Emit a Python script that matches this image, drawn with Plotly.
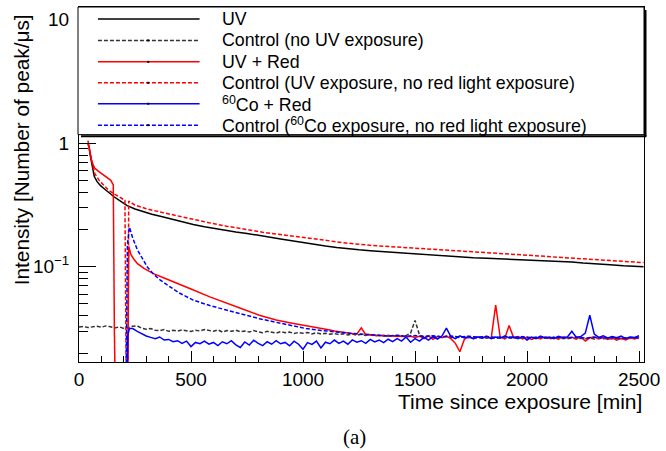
import plotly.graph_objects as go

# ---------------- data ----------------
# UV (black solid)
t_uv = [40, 45, 50, 55, 60, 68, 80, 95, 111, 130, 155, 180, 215, 250, 288, 325, 363, 400, 450,
        510, 560, 610, 658, 700, 750, 805, 850, 900, 950, 1013, 1050, 1100, 1150, 1204, 1250,
        1300, 1350, 1425, 1480, 1540, 1600, 1646, 1700, 1760, 1820, 1867, 1920, 1980, 2040,
        2089, 2150, 2200, 2250, 2310, 2370, 2430, 2480, 2520]
v_uv = [1.0, 0.93, 0.80, 0.70, 0.62, 0.54, 0.49, 0.455, 0.43, 0.40, 0.37, 0.345, 0.312, 0.293,
        0.278, 0.266, 0.256, 0.246, 0.233, 0.220, 0.211, 0.203, 0.197, 0.191, 0.186, 0.180,
        0.174, 0.168, 0.162, 0.155, 0.151, 0.147, 0.143, 0.139, 0.137, 0.135, 0.133, 0.130,
        0.128, 0.125, 0.123, 0.121, 0.120, 0.118, 0.117, 0.116, 0.115, 0.114, 0.113, 0.112,
        0.110, 0.109, 0.107, 0.106, 0.104, 0.102, 0.101, 0.100]

# Control (no UV exposure) (black dashed), sampled every 20 min from t = 0
t0_ctrl = 0
v_ctrl = [0.0325, 0.0328, 0.0322, 0.0326, 0.0330, 0.0324, 0.0332, 0.0327, 0.0320, 0.0326,
          0.0316, 0.0322, 0.0330, 0.0332, 0.0318, 0.0312, 0.0316, 0.0306, 0.0304, 0.0310,
          0.0300, 0.0306, 0.0302, 0.0308, 0.0303, 0.0299, 0.0306, 0.0302, 0.0310, 0.0304,
          0.0300, 0.0308, 0.0296, 0.0304, 0.0300, 0.0306, 0.0298, 0.0302, 0.0296, 0.0304,
          0.0298, 0.0292, 0.0300, 0.0296, 0.0290, 0.0298, 0.0292, 0.0296, 0.0288, 0.0294,
          0.0289, 0.0294, 0.0286, 0.0292, 0.0285, 0.0290, 0.0284, 0.0288, 0.0282, 0.0287,
          0.0280, 0.0285, 0.0279, 0.0284, 0.0278, 0.0282, 0.0276, 0.0280, 0.0275, 0.0279,
          0.0274, 0.0278, 0.0273, 0.0277, 0.0290, 0.0368, 0.0280, 0.0272, 0.0276, 0.0270,
          0.0274, 0.0269, 0.0273, 0.0268, 0.0272, 0.0267, 0.0271, 0.0266, 0.0270, 0.0265,
          0.0269, 0.0264, 0.0268, 0.0263, 0.0267, 0.0262, 0.0266, 0.0263, 0.0267, 0.0262,
          0.0266, 0.0261, 0.0265, 0.0262, 0.0266, 0.0261, 0.0265, 0.0260, 0.0264, 0.0261,
          0.0265, 0.0260, 0.0264, 0.0261, 0.0265, 0.0260, 0.0264, 0.0261, 0.0265, 0.0260,
          0.0264, 0.0261, 0.0265, 0.0262, 0.0266, 0.0263]

# UV + Red (red solid): early part, red-light gap (off scale), recovery
t_uvred_a = [40, 45, 50, 55, 62, 70, 83, 100, 111, 125, 142, 153, 158, 170, 214, 222, 232, 245,
             261, 290, 332, 380, 437, 500, 584, 660, 730, 805, 880, 940, 1000]
v_uvred_a = [1.05, 0.92, 0.82, 0.74, 0.67, 0.63, 0.60, 0.57, 0.547, 0.52, 0.50, 0.46, 0.03, 0.001,
             0.001, 0.146, 0.125, 0.115, 0.106, 0.097, 0.088, 0.081, 0.074, 0.066, 0.057, 0.051,
             0.0455, 0.0405, 0.037, 0.0352, 0.0338]
# UV + Red tail, every 20 min from t = 1020
t0_uvred_b = 1020
v_uvred_b = [0.0332, 0.0328, 0.0322, 0.0318, 0.0312, 0.0308, 0.0302, 0.0298, 0.0294, 0.0290,
             0.0286, 0.0284, 0.0320, 0.0282, 0.0280, 0.0278, 0.0276, 0.0279, 0.0274, 0.0276,
             0.0272, 0.0275, 0.0270, 0.0274, 0.0268, 0.0274, 0.0262, 0.0276, 0.0258, 0.0272,
             0.0266, 0.0275, 0.0262, 0.0240, 0.0205, 0.0258, 0.0272, 0.0262, 0.0270, 0.0266,
             0.0272, 0.0264, 0.0490, 0.0270, 0.0262, 0.0335, 0.0266, 0.0272, 0.0262, 0.0270,
             0.0258, 0.0268, 0.0262, 0.0270, 0.0264, 0.0268, 0.0262, 0.0270, 0.0266, 0.0268,
             0.0262, 0.0270, 0.0250, 0.0266, 0.0270, 0.0262, 0.0268, 0.0258, 0.0266, 0.0254,
             0.0264, 0.0256, 0.0266, 0.0260, 0.0268]

# Control (UV exposure, no red light exposure) (red dashed)
t_ctrl_uv = [40, 50, 60, 70, 90, 111, 130, 155, 180, 205, 215, 218, 222, 250, 300, 363, 420, 500,
             580, 658, 740, 820, 900, 1013, 1100, 1200, 1300, 1400, 1500, 1600, 1700, 1800,
             1900, 2000, 2100, 2200, 2300, 2400, 2520]
v_ctrl_uv = [1.0, 0.83, 0.66, 0.57, 0.50, 0.46, 0.42, 0.39, 0.365, 0.345, 0.001, 0.001, 0.34,
             0.315, 0.295, 0.277, 0.262, 0.243, 0.227, 0.213, 0.200, 0.190, 0.182, 0.171, 0.163,
             0.155, 0.149, 0.145, 0.142, 0.138, 0.134, 0.131, 0.128, 0.124, 0.121, 0.118, 0.115,
             0.112, 0.108]

# 60Co + Red (blue solid): rise, then every 20 min from t = 240
t_co_a = [205, 218, 225]
v_co_a = [0.001, 0.028, 0.0316]
t0_co_b = 240
v_co_b = [0.0316, 0.0300, 0.0285, 0.0275, 0.0268, 0.0262, 0.0270, 0.0255, 0.0258, 0.0247,
          0.0252, 0.0240, 0.0250, 0.0226, 0.0244, 0.0238, 0.0250, 0.0236, 0.0244, 0.0230,
          0.0247, 0.0238, 0.0252, 0.0233, 0.0222, 0.0246, 0.0232, 0.0254, 0.0240, 0.0230,
          0.0247, 0.0236, 0.0252, 0.0238, 0.0244, 0.0229, 0.0250, 0.0236, 0.0215, 0.0243,
          0.0235, 0.0250, 0.0220, 0.0245, 0.0238, 0.0255, 0.0240, 0.0250, 0.0236, 0.0256,
          0.0245, 0.0252, 0.0240, 0.0258, 0.0246, 0.0255, 0.0243, 0.0259, 0.0248, 0.0262,
          0.0250, 0.0270, 0.0245, 0.0262, 0.0250, 0.0268, 0.0255, 0.0272, 0.0260, 0.0275,
          0.0318, 0.0272, 0.0262, 0.0276, 0.0265, 0.0272, 0.0262, 0.0270, 0.0264, 0.0274,
          0.0262, 0.0270, 0.0264, 0.0275, 0.0266, 0.0270, 0.0262, 0.0272, 0.0255, 0.0270,
          0.0262, 0.0275, 0.0265, 0.0270, 0.0262, 0.0274, 0.0266, 0.0270, 0.0300, 0.0268,
          0.0272, 0.0290, 0.0405, 0.0285, 0.0268, 0.0276, 0.0265, 0.0272, 0.0266, 0.0275,
          0.0262, 0.0270, 0.0268, 0.0276]

# Control (60Co exposure, no red light exposure) (blue dashed)
t_ctrl_co_a = [205, 216, 225, 240, 260, 280, 304, 330, 363, 400, 450, 510, 584, 658, 730, 805,
               880, 950, 1013, 1080, 1150, 1220, 1300]
v_ctrl_co_a = [0.001, 0.15, 0.209, 0.17, 0.138, 0.118, 0.100, 0.088, 0.078, 0.070, 0.061,
               0.0537, 0.0485, 0.0446, 0.041, 0.038, 0.0355, 0.0335, 0.0316, 0.0305, 0.0296,
               0.0288, 0.0282]
t0_ctrl_co_b = 1340
v_ctrl_co_b = [0.0278, 0.0275, 0.0279, 0.0274, 0.0277, 0.0272, 0.0276, 0.0271, 0.0275, 0.0270,
               0.0274, 0.0269, 0.0273, 0.0268, 0.0272, 0.0268, 0.0271, 0.0267, 0.0271, 0.0266,
               0.0270, 0.0266, 0.0270, 0.0265, 0.0269, 0.0265, 0.0268, 0.0264, 0.0268, 0.0265]

legend_labels = ["UV", "Control (no UV exposure)", "UV + Red",
                 "Control (UV exposure, no red light exposure)", "<sup>60</sup>Co + Red",
                 "Control (<sup>60</sup>Co exposure, no red light exposure)"]

y_tickvals = [0.1, 1, 10]
y_ticktext = ["10<sup>\u22121</sup>", "1", "10"]
x_tickvals = [0, 500, 1000, 1500, 2000, 2500]

# ---------------- assembly ----------------
def grid(t0, vals, step=20):
    return [t0 + step * i for i in range(len(vals))]

t_ctrl = grid(t0_ctrl, v_ctrl)
t_uvred = t_uvred_a + grid(t0_uvred_b, v_uvred_b)
v_uvred = v_uvred_a + v_uvred_b
t_co = t_co_a + grid(t0_co_b, v_co_b)
v_co = v_co_a + v_co_b
t_ctrl_co = t_ctrl_co_a + grid(t0_ctrl_co_b, v_ctrl_co_b, 40)
v_ctrl_co = v_ctrl_co_a + v_ctrl_co_b

RED, BLUE, BLACK, GREY = "#ff0000", "#0000ff", "#000000", "#333333"
DASH = "4px,2px"
LW = 1.5

styles = [
    (t_uv, v_uv, BLACK, "solid"),
    (t_ctrl, v_ctrl, GREY, DASH),
    (t_uvred, v_uvred, RED, "solid"),
    (t_ctrl_uv, v_ctrl_uv, RED, DASH),
    (t_co, v_co, BLUE, "solid"),
    (t_ctrl_co, v_ctrl_co, BLUE, DASH),
]

fig = go.Figure()
for (tx, vy, col, dash), name in zip(styles, legend_labels):
    fig.add_trace(go.Scatter(x=tx, y=vy, mode="lines", name=name, hoverinfo="skip",
                             line=dict(color=col, width=LW, dash=dash), showlegend=False))

W, H = 666, 451
PL, PR, PT, PB = 79, 646, 6, 362  # plot area in pixels


def px(x):
    return (x - PL) / (PR - PL)


def py(y):
    return (PB - y) / (PB - PT)


minor_y = [m * d for d in (0.01, 0.1, 1) for m in range(2, 10)]

fig.update_layout(
    width=W, height=H, autosize=False,
    margin=dict(l=PL, r=W - PR, t=PT, b=H - PB, pad=0),
    paper_bgcolor="white", plot_bgcolor="white",
    font=dict(family="Liberation Sans, Arial, sans-serif", size=19, color="black"),
    xaxis=dict(range=[0, 2522], showgrid=False, zeroline=False, showline=True, mirror=True,
               linecolor="black", linewidth=1, ticks="inside", ticklen=11, tickwidth=1,
               tickcolor="black", tickvals=x_tickvals, ticklabelstandoff=0,
               minor=dict(ticks="inside", ticklen=6, tickwidth=1, tickcolor="black", dtick=100,
                          showgrid=False)),
    yaxis=dict(type="log", range=[-1.771, 1.102], showgrid=False, zeroline=False, showline=True,
               mirror=True, linecolor="black", linewidth=1, ticks="inside", ticklen=17,
               tickwidth=1, tickcolor="black", tickvals=y_tickvals, ticktext=y_ticktext,
               ticklabelstandoff=5,
               minor=dict(ticks="inside", ticklen=9, tickwidth=1, tickcolor="black",
                          tickvals=minor_y, showgrid=False)),
)

shapes = []
ann = []
# legend box (drawn over the top of the frame), with ROOT-like shadow
LX0, LX1, LY0, LY1 = 78, 646, 6, 134
shapes.append(dict(type="rect", xref="paper", yref="paper", x0=px(LX0), x1=px(LX1),
                   y0=py(LY1), y1=py(LY0), fillcolor="white",
                   line=dict(color="black", width=1), layer="above"))
shapes.append(dict(type="line", xref="paper", yref="paper", x0=px(LX1 + 1.5), x1=px(LX1 + 1.5),
                   y0=py(LY1 + 1.5), y1=py(LY0 + 3), line=dict(color="black", width=2),
                   layer="above"))
shapes.append(dict(type="line", xref="paper", yref="paper", x0=px(LX0 + 3), x1=px(LX1 + 2.5),
                   y0=py(LY1 + 1.5), y1=py(LY1 + 1.5), line=dict(color="black", width=2),
                   layer="above"))
row_y = [18, 39.5, 61, 82, 103, 124.5]
for i, ((tx, vy, col, dash), name) in enumerate(zip(styles, legend_labels)):
    yy = py(row_y[i])
    shapes.append(dict(type="line", xref="paper", yref="paper", x0=px(98), x1=px(200),
                       y0=yy, y1=yy, line=dict(color=col, width=LW, dash=dash), layer="above"))
    if i >= 1:
        shapes.append(dict(type="rect", xref="paper", yref="paper", x0=px(147.5), x1=px(149.5),
                           y0=py(row_y[i] + 1), y1=py(row_y[i] - 1), fillcolor="black",
                           line=dict(width=0), layer="above"))
    ann.append(dict(text=name, xref="paper", yref="paper", x=px(221), y=yy, xanchor="left",
                    yanchor="middle", showarrow=False, font=dict(size=17.8)))

ann.append(dict(text="Intensity [Number of peak/\u03bcs]", xref="paper", yref="paper",
                x=px(21.5), y=py(149), xanchor="center", yanchor="middle", textangle=-90,
                showarrow=False, font=dict(size=20.8)))
ann.append(dict(text="Time since exposure [min]", xref="paper", yref="paper", x=px(646),
                y=py(402), xanchor="right", yanchor="middle", showarrow=False,
                font=dict(size=21)))
ann.append(dict(text="(a)", xref="paper", yref="paper", x=px(355), y=py(437),
                xanchor="center", yanchor="middle", showarrow=False,
                font=dict(family="Liberation Serif, DejaVu Serif, serif", size=21)))

fig.update_layout(shapes=shapes, annotations=ann)
fig.write_html("out.html", config={"displayModeBar": False, "staticPlot": True},
               post_script="document.body.style.margin='0';document.body.style.padding='0';")
